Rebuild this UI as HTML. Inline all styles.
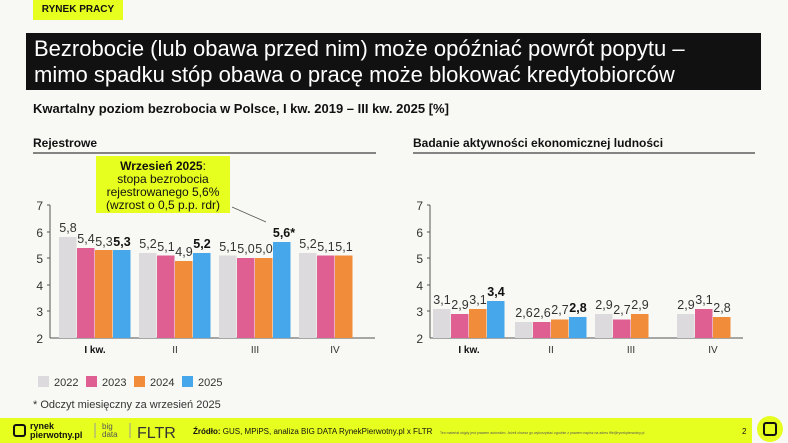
<!DOCTYPE html>
<html><head><meta charset="utf-8"><style>
body{margin:0;width:788px;height:443px;overflow:hidden;background:#f8f8f4;font-family:"Liberation Sans",sans-serif;position:relative}
.tag{position:absolute;left:33px;top:0;width:90px;height:20px;background:#e6ff1e;font-size:10px;font-weight:bold;text-align:center;line-height:20px;color:#111}
.title{position:absolute;left:26px;top:33px;width:735px;height:57px;background:#111;color:#fff;font-size:22px;line-height:26px;padding:3px 0 0 8px;box-sizing:border-box;white-space:nowrap}
svg{position:absolute;left:0;top:0}
</style></head><body>
<div class="tag">RYNEK PRACY</div>
<div class="title">Bezrobocie (lub obawa przed nim) może opóźniać powrót popytu –<br>mimo spadku stóp obawa o pracę może blokować kredytobiorców</div>
<svg width="788" height="443" font-family="Liberation Sans, sans-serif">
<text x="33" y="113" font-size="13" font-weight="bold" fill="#111">Kwartalny poziom bezrobocia w Polsce, I kw. 2019 – III kw. 2025 [%]</text>
<text x="33" y="147" font-size="12" font-weight="bold" fill="#111">Rejestrowe</text>
<line x1="33" y1="153" x2="376" y2="153" stroke="#111" stroke-width="1"/>
<text x="413" y="147" font-size="12" font-weight="bold" fill="#111">Badanie aktywności ekonomicznej ludności</text>
<line x1="413" y1="153" x2="755" y2="153" stroke="#111" stroke-width="1"/>
<rect x="96" y="156" width="134" height="57" fill="#e6ff1e"/>
<text x="163" y="170" font-size="12" text-anchor="middle" fill="#111"><tspan font-weight="bold">Wrzesień 2025</tspan>:</text>
<text x="163" y="183" font-size="12" text-anchor="middle" fill="#111">stopa bezrobocia</text>
<text x="163" y="196" font-size="12" text-anchor="middle" fill="#111">rejestrowanego 5,6%</text>
<text x="163" y="209" font-size="12" text-anchor="middle" fill="#111">(wzrost o 0,5 p.p. rdr)</text>
<line x1="232" y1="207" x2="266" y2="222" stroke="#555" stroke-width="0.8"/>
<g font-size="12" fill="#333" text-anchor="end">
<text x="43" y="210">7</text><text x="43" y="237">6</text><text x="43" y="263">5</text><text x="43" y="290">4</text><text x="43" y="316">3</text><text x="43" y="343">2</text>
<text x="423" y="210">7</text><text x="423" y="237">6</text><text x="423" y="263">5</text><text x="423" y="290">4</text><text x="423" y="316">3</text><text x="423" y="343">2</text>
</g>
<g stroke="#555" stroke-width="1">
<line x1="50" y1="205" x2="50" y2="338"/><line x1="50" y1="338" x2="375" y2="338"/>
<line x1="430" y1="205" x2="430" y2="338"/><line x1="430" y1="338" x2="743" y2="338"/>
<line x1="47" y1="205" x2="50" y2="205"/><line x1="47" y1="232" x2="50" y2="232"/><line x1="47" y1="258" x2="50" y2="258"/><line x1="47" y1="285" x2="50" y2="285"/><line x1="47" y1="311" x2="50" y2="311"/>
<line x1="427" y1="205" x2="430" y2="205"/><line x1="427" y1="232" x2="430" y2="232"/><line x1="427" y1="258" x2="430" y2="258"/><line x1="427" y1="285" x2="430" y2="285"/><line x1="427" y1="311" x2="430" y2="311"/>
</g>
<g>
<rect x="59" y="237" width="17.5" height="101" fill="#dcdadd"/><rect x="77" y="248" width="17.5" height="90" fill="#df5f93"/><rect x="95" y="250" width="17.5" height="88" fill="#f08c3a"/><rect x="113" y="250" width="17.5" height="88" fill="#46a7ea"/>
<rect x="139" y="253" width="17.5" height="85" fill="#dcdadd"/><rect x="157" y="255.5" width="17.5" height="82.5" fill="#df5f93"/><rect x="175" y="261" width="17.5" height="77" fill="#f08c3a"/><rect x="193" y="253" width="17.5" height="85" fill="#46a7ea"/>
<rect x="219" y="255.5" width="17.5" height="82.5" fill="#dcdadd"/><rect x="237" y="258" width="17.5" height="80" fill="#df5f93"/><rect x="255" y="258" width="17.5" height="80" fill="#f08c3a"/><rect x="273" y="242" width="17.5" height="96" fill="#46a7ea"/>
<rect x="299" y="253" width="17.5" height="85" fill="#dcdadd"/><rect x="317" y="255.5" width="17.5" height="82.5" fill="#df5f93"/><rect x="335" y="255.5" width="17.5" height="82.5" fill="#f08c3a"/>
<rect x="433" y="309" width="17.5" height="29" fill="#dcdadd"/><rect x="451" y="314" width="17.5" height="24" fill="#df5f93"/><rect x="469" y="309" width="17.5" height="29" fill="#f08c3a"/><rect x="487" y="301" width="17.5" height="37" fill="#46a7ea"/>
<rect x="515" y="322" width="17.5" height="16" fill="#dcdadd"/><rect x="533" y="322" width="17.5" height="16" fill="#df5f93"/><rect x="551" y="319.5" width="17.5" height="18.5" fill="#f08c3a"/><rect x="569" y="317" width="17.5" height="21" fill="#46a7ea"/>
<rect x="595" y="314" width="17.5" height="24" fill="#dcdadd"/><rect x="613" y="319.5" width="17.5" height="18.5" fill="#df5f93"/><rect x="631" y="314" width="17.5" height="24" fill="#f08c3a"/>
<rect x="677" y="314" width="17.5" height="24" fill="#dcdadd"/><rect x="695" y="309" width="17.5" height="29" fill="#df5f93"/><rect x="713" y="317" width="17.5" height="21" fill="#f08c3a"/>
</g>
<g font-size="12.5" fill="#333" text-anchor="middle">
<text x="68" y="232">5,8</text><text x="86" y="243">5,4</text><text x="104" y="246">5,3</text><text x="122" y="246" font-weight="bold" fill="#111">5,3</text>
<text x="148" y="248">5,2</text><text x="166" y="251">5,1</text><text x="184" y="256">4,9</text><text x="202" y="248" font-weight="bold" fill="#111">5,2</text>
<text x="228" y="251">5,1</text><text x="246" y="253">5,0</text><text x="264" y="253">5,0</text><text x="284" y="237" font-weight="bold" fill="#111">5,6*</text>
<text x="308" y="248">5,2</text><text x="326" y="251">5,1</text><text x="344" y="251">5,1</text>
<text x="442" y="304">3,1</text><text x="460" y="309">2,9</text><text x="478" y="304">3,1</text><text x="496" y="296" font-weight="bold" fill="#111">3,4</text>
<text x="524" y="317">2,6</text><text x="542" y="317">2,6</text><text x="560" y="314">2,7</text><text x="578" y="312" font-weight="bold" fill="#111">2,8</text>
<text x="604" y="309">2,9</text><text x="622" y="314">2,7</text><text x="640" y="309">2,9</text>
<text x="686" y="309">2,9</text><text x="704" y="304">3,1</text><text x="722" y="312">2,8</text>
</g>
<g font-size="10" fill="#333" text-anchor="middle">
<text x="95" y="353" font-weight="bold" fill="#111">I kw.</text><text x="175" y="353">II</text><text x="255" y="353">III</text><text x="335" y="353">IV</text>
<text x="469" y="353" font-weight="bold" fill="#111">I kw.</text><text x="551" y="353">II</text><text x="631" y="353">III</text><text x="713" y="353">IV</text>
</g>
<g font-size="11" fill="#333">
<rect x="38" y="376" width="11" height="11" fill="#dcdadd"/><text x="54" y="386">2022</text>
<rect x="86" y="376" width="11" height="11" fill="#df5f93"/><text x="102" y="386">2023</text>
<rect x="134" y="376" width="11" height="11" fill="#f08c3a"/><text x="150" y="386">2024</text>
<rect x="182" y="376" width="11" height="11" fill="#46a7ea"/><text x="198" y="386">2025</text>
<text x="33" y="408">* Odczyt miesięczny za wrzesień 2025</text>
</g>
<rect x="0" y="418" width="752" height="25" fill="#e6ff1e"/>
<circle cx="770" cy="429" r="13" fill="#e6ff1e"/>
<rect x="764" y="423" width="12" height="12" rx="2" fill="none" stroke="#111" stroke-width="2"/>
<rect x="14" y="425" width="11" height="11" rx="2" fill="none" stroke="#111" stroke-width="2"/>
<text x="30" y="429" font-size="9" font-weight="bold" fill="#111">rynek</text>
<text x="30" y="438" font-size="9" font-weight="bold" fill="#111">pierwotny.pl</text>
<line x1="95" y1="423" x2="95" y2="438" stroke="#999"/>
<text x="102" y="429" font-size="8" fill="#555">big</text><text x="102" y="437" font-size="8" fill="#555">data</text>
<line x1="130" y1="423" x2="130" y2="438" stroke="#999"/>
<text x="137" y="438" font-size="16" fill="#333">FLTR</text>
<text x="193" y="434" font-size="8" fill="#111"><tspan font-weight="bold">Źródło:</tspan> GUS, MPiPS, analiza BIG DATA RynekPierwotny.pl x FLTR</text>
<text x="440" y="434" font-size="3.5" fill="#555">Ten materiał objęty jest prawem autorskim. Jeżeli chcesz go wykorzystać zgodnie z prawem napisz na adres ffltr@rynekpierwotny.pl</text>
<text x="742" y="434" font-size="8" fill="#111">2</text>
</svg>
</body></html>
